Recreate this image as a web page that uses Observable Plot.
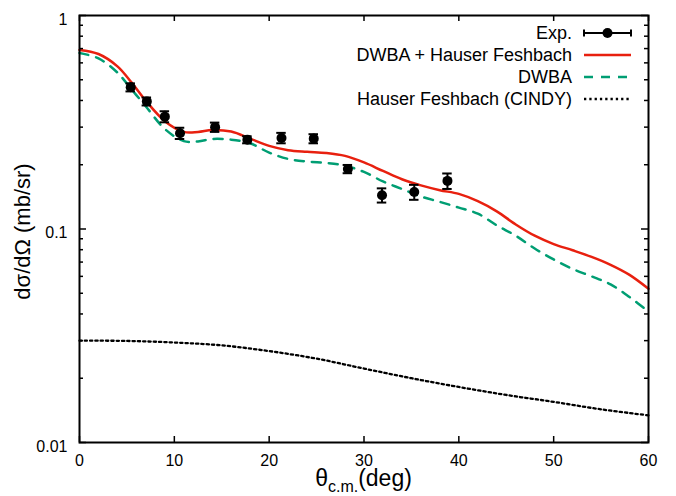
<!DOCTYPE html>
<html><head><meta charset="utf-8">
<script src="https://cdn.jsdelivr.net/npm/d3@7"></script>
<script src="https://cdn.jsdelivr.net/npm/@observablehq/plot@0.6"></script>
<style>body{margin:0;background:#fff} svg{display:block}</style>
</head><body><div id="chart"></div>
<script>
// Experimental data
const expAngle = [5.4, 7.1, 9.0, 10.6, 14.3, 17.7, 21.3, 24.7, 28.3, 31.9, 35.3, 38.8];
const expValue = [0.461, 0.396, 0.336, 0.281, 0.300, 0.262, 0.267, 0.265, 0.191, 0.144, 0.149, 0.168];
const expError = [0.020, 0.017, 0.020, 0.017, 0.015, 0.010, 0.015, 0.013, 0.0085, 0.011, 0.012, 0.014];

// Calculations
const curveAngle = [0,2,4,5.5,7,9,11,12.5,14,16,18,20,22,24,26,28,30,32,34,36,38,40,42,44,46,48,50,52,54,56,58,60];
const dwbaHf = [0.69,0.66,0.578,0.485,0.398,0.320,0.285,0.285,0.291,0.286,0.265,0.245,0.234,0.230,0.227,0.220,0.205,0.187,0.171,0.160,0.152,0.146,0.135,0.121,0.105,0.093,0.085,0.0795,0.074,0.068,0.061,0.0525];
const dwba = [0.668,0.63,0.54,0.450,0.375,0.294,0.258,0.257,0.264,0.262,0.252,0.228,0.213,0.207,0.204,0.198,0.185,0.167,0.154,0.142,0.134,0.126,0.118,0.104,0.093,0.081,0.072,0.065,0.060,0.055,0.048,0.041];
const hfAngle = [0,5,10,15,20,25,30,35,40,45,50,55,60];
const hf = [0.0300,0.0299,0.0294,0.0285,0.0268,0.0247,0.0222,0.0200,0.0182,0.0167,0.0155,0.0143,0.0134];

const xTicks = [0,10,20,30,40,50,60];
const yTicks = [0.01,0.1,1];
const yMinor = [0.02,0.03,0.04,0.05,0.06,0.07,0.08,0.09,0.2,0.3,0.4,0.5,0.6,0.7,0.8,0.9];
const legendLabels = ["Exp.","DWBA + Hauser Feshbach","DWBA","Hauser Feshbach (CINDY)"];

const RED = "#e8200f", GREEN = "#009e73";
const W = 676, H = 496, mL = 79, mR = 28, mT = 15, mB = 54;
const fw = W - mL - mR, fh = H - mT - mB;

const exp = expAngle.map((x, i) => ({x, y: expValue[i], e: expError[i]}));
const full = curveAngle.map((x, i) => ({x, y: dwbaHf[i]}));
const dw = curveAngle.map((x, i) => ({x, y: dwba[i]}));
const hfd = hfAngle.map((x, i) => ({x, y: hf[i]}));

const chart = Plot.plot({
  width: W, height: H,
  marginLeft: mL, marginRight: mR, marginTop: mT, marginBottom: mB,
  style: {fontFamily: "'Liberation Sans', Arial, Helvetica, sans-serif", fontSize: "16px", background: "#fff", color: "#000"},
  x: {domain: [0, 60]},
  y: {type: "log", domain: [0.01, 1]},
  marks: [
    Plot.line(hfd, {x: "x", y: "y", stroke: "#000", strokeWidth: 2.3, strokeDasharray: "2.3,3", curve: "catmull-rom"}),
    Plot.line(dw, {x: "x", y: "y", stroke: GREEN, strokeWidth: 2.5, strokeDasharray: "9,8", curve: "catmull-rom"}),
    Plot.line(full, {x: "x", y: "y", stroke: RED, strokeWidth: 2.5, curve: "catmull-rom"}),
    Plot.ruleX(exp, {x: "x", y1: d => d.y - d.e, y2: d => d.y + d.e, stroke: "#000", strokeWidth: 2}),
    Plot.ruleY(exp, {y: d => d.y - d.e, x1: d => d.x - 0.5, x2: d => d.x + 0.5, stroke: "#000", strokeWidth: 2}),
    Plot.ruleY(exp, {y: d => d.y + d.e, x1: d => d.x - 0.5, x2: d => d.x + 0.5, stroke: "#000", strokeWidth: 2}),
    Plot.dot(exp, {x: "x", y: "y", r: 5, fill: "#000"}),
    // inward ticks
    Plot.tickX(xTicks, {x: d => d, insetTop: fh - 6, stroke: "#000", strokeWidth: 1.5}),
    Plot.tickX(xTicks, {x: d => d, insetBottom: fh - 6, stroke: "#000", strokeWidth: 1.5}),
    Plot.tickY(yTicks, {y: d => d, insetRight: fw - 7, stroke: "#000", strokeWidth: 1.5}),
    Plot.tickY(yTicks, {y: d => d, insetLeft: fw - 7, stroke: "#000", strokeWidth: 1.5}),
    Plot.tickY(yMinor, {y: d => d, insetRight: fw - 4, stroke: "#000", strokeWidth: 1.5}),
    Plot.tickY(yMinor, {y: d => d, insetLeft: fw - 4, stroke: "#000", strokeWidth: 1.5}),
    Plot.axisX({ticks: xTicks, tickSize: 0, tickPadding: 12, fontSize: 16, label: null}),
    Plot.axisY({ticks: yTicks, tickSize: 0, tickPadding: 12, fontSize: 16, label: null, dy: 4,
      tickFormat: d => d === 1 ? "1" : String(d)}),
    Plot.frame({stroke: "#000", strokeWidth: 2})
  ]
});
document.getElementById("chart").appendChild(chart);

const svg = d3.select(chart);
const ff = "'Liberation Sans', Arial, Helvetica, sans-serif";

// x axis label with subscript
const xl = svg.append("text").attr("x", mL + fw / 2).attr("y", 486)
  .attr("text-anchor", "middle").attr("font-family", ff).attr("font-size", 23).attr("fill", "#000");
xl.append("tspan").text("θ");
xl.append("tspan").attr("dy", 6).attr("font-size", 16).text("c.m.");
xl.append("tspan").attr("dy", -6).text("(deg)");

// y axis label
svg.append("text").attr("transform", `translate(30,${mT + fh / 2 + 3}) rotate(-90)`)
  .attr("text-anchor", "middle").attr("font-family", ff).attr("font-size", 22).attr("fill", "#000")
  .text("dσ/dΩ (mb/sr)");

// legend
const lg = svg.append("g");
const lx0 = 584, lx1 = 631, tx = 572;
legendLabels.forEach((lab, i) => {
  const y = 33 + 22 * i;
  lg.append("text").attr("x", tx).attr("y", y).attr("dy", "0.35em").attr("text-anchor", "end")
    .attr("font-family", ff).attr("font-size", 18).attr("fill", "#000").text(lab);
  if (i === 0) {
    lg.append("line").attr("x1", lx0).attr("x2", lx1).attr("y1", y).attr("y2", y).attr("stroke", "#000").attr("stroke-width", 2);
    [lx0, lx1].forEach(cx => lg.append("line").attr("x1", cx).attr("x2", cx).attr("y1", y - 3.5).attr("y2", y + 3.5).attr("stroke", "#000").attr("stroke-width", 2));
    lg.append("circle").attr("cx", (lx0 + lx1) / 2).attr("cy", y).attr("r", 5).attr("fill", "#000");
  } else {
    const st = [null, [RED, null, 2.5], [GREEN, "9,8", 2.5], ["#000", "2.3,3", 2.3]][i];
    lg.append("line").attr("x1", lx0).attr("x2", lx1).attr("y1", y).attr("y2", y)
      .attr("stroke", st[0]).attr("stroke-width", st[2]).attr("stroke-dasharray", st[1]);
  }
});
</script>
</body></html>
